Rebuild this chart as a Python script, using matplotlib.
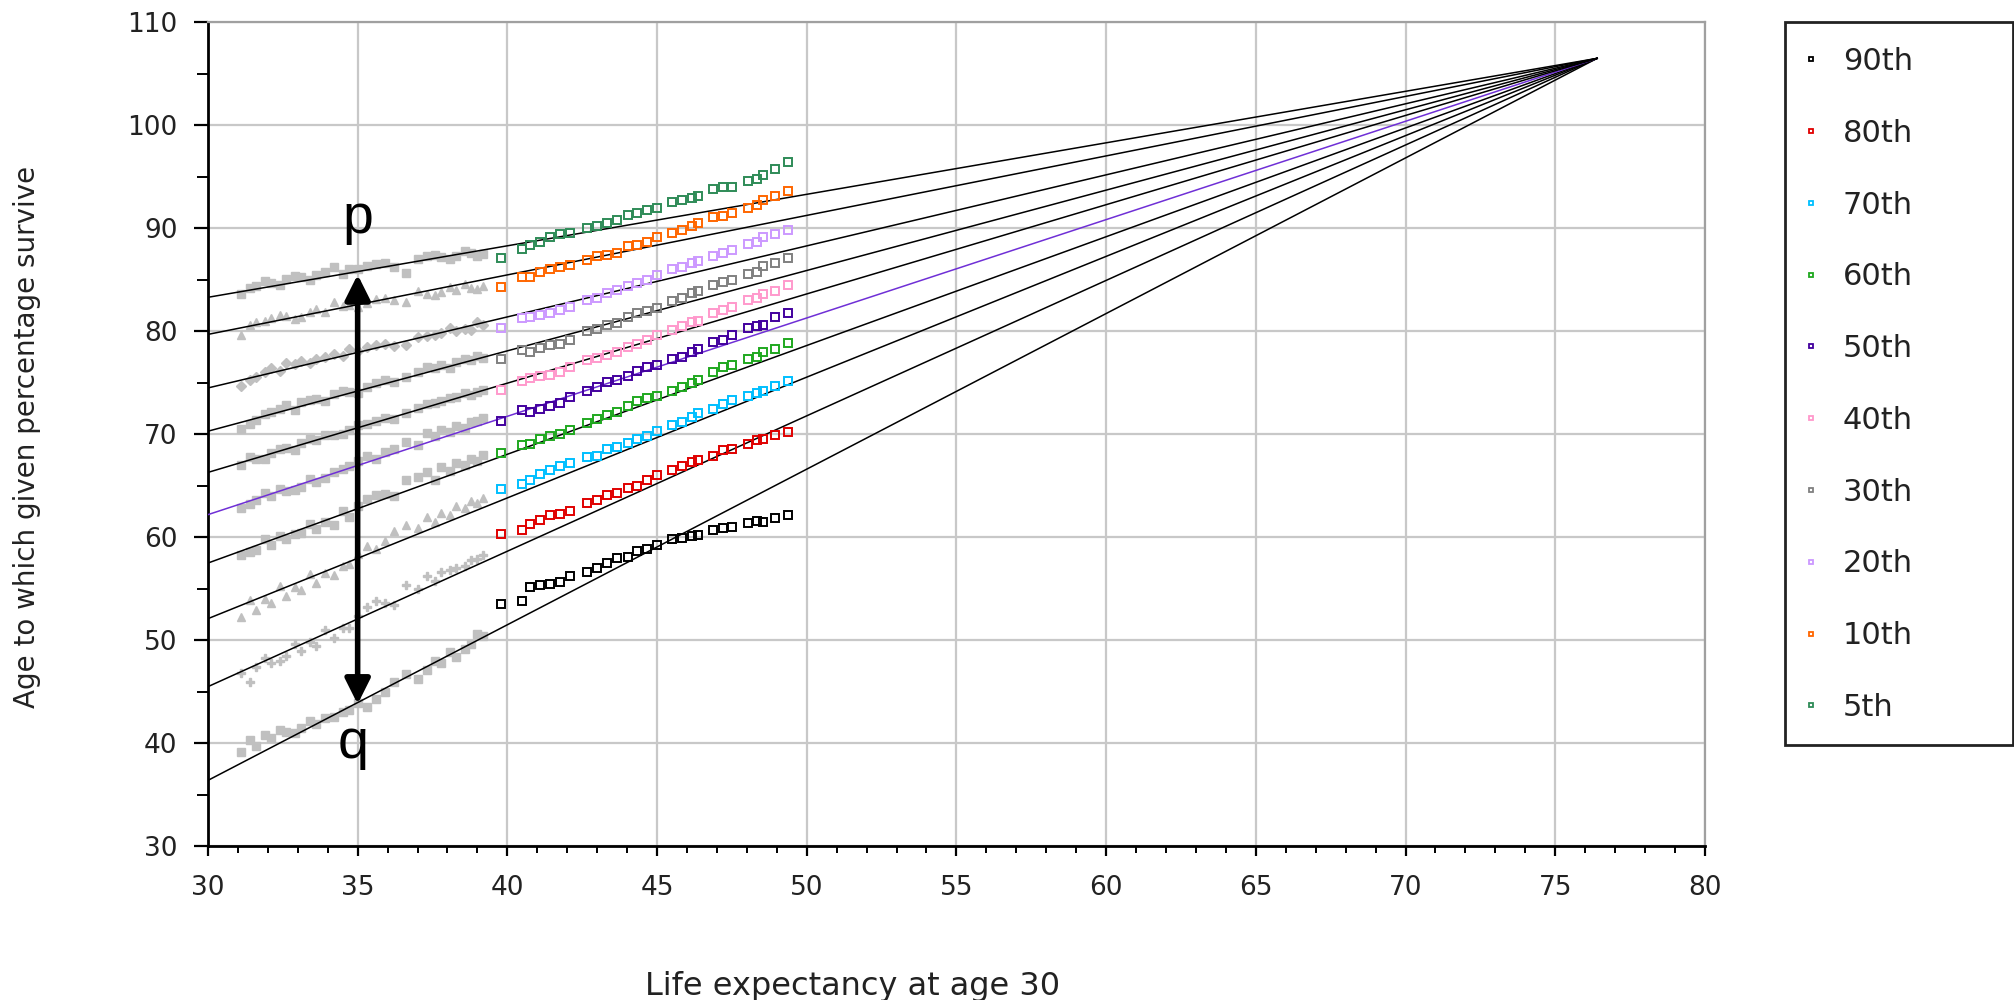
"""
Survival-age fan chart: age to which a given percentage survive vs life
expectancy at age 30, with percentile series and converging fit lines.
Writes out.png.
"""

import matplotlib

matplotlib.use("Agg")  # headless
import matplotlib.pyplot as plt
from matplotlib.lines import Line2D
from matplotlib.patches import Rectangle

# --- data --------------------------------------------------------------------
PERCENTILES = ["90th", "80th", "70th", "60th", "50th", "40th", "30th", "20th", "10th", "5th"]

# fitted lines: start value at x=30, all converge on one point
LINE_X0 = 30.0
LINE_Y0 = [36.4, 45.5, 52.1, 57.5, 62.2, 66.3, 70.3, 74.5, 79.7, 83.3]
CONVERGE_X = 76.4
CONVERGE_Y = 106.5

# coloured series (life expectancy 39.8 - 49.4)
COLOUR_X = [39.78, 40.48, 40.76, 41.09, 41.42, 41.76, 42.09, 42.65, 42.98, 43.32,
            43.65, 44.04, 44.32, 44.65, 44.99, 45.49, 45.82, 46.16, 46.38, 46.88,
            47.21, 47.49, 48.05, 48.33, 48.55, 48.94, 49.39]
Y_90 = [53.5, 53.8, 55.2, 55.4, 55.5, 55.7, 56.2, 56.6, 57.0, 57.5, 58.0, 58.1, 58.7, 58.9,
        59.3, 59.8, 59.9, 60.1, 60.2, 60.7, 60.9, 61.0, 61.4, 61.6, 61.5, 61.9, 62.2]
Y_80 = [60.3, 60.7, 61.3, 61.7, 62.2, 62.3, 62.6, 63.3, 63.6, 64.1, 64.3, 64.8, 65.0, 65.6,
        66.0, 66.5, 66.9, 67.3, 67.5, 67.9, 68.5, 68.6, 69.1, 69.4, 69.5, 69.9, 70.2]
Y_70 = [64.7, 65.2, 65.6, 66.1, 66.5, 66.9, 67.2, 67.8, 67.9, 68.6, 68.8, 69.2, 69.5, 69.8,
        70.3, 70.9, 71.2, 71.7, 72.1, 72.5, 72.9, 73.3, 73.7, 74.0, 74.2, 74.7, 75.2]
Y_60 = [68.2, 69.0, 69.1, 69.5, 69.8, 70.0, 70.4, 71.1, 71.5, 71.9, 72.2, 72.7, 73.2, 73.5,
        73.7, 74.2, 74.6, 75.0, 75.3, 76.0, 76.5, 76.7, 77.3, 77.5, 78.0, 78.3, 78.9]
Y_50 = [71.3, 72.4, 72.2, 72.5, 72.7, 73.0, 73.6, 74.2, 74.6, 75.1, 75.3, 75.7, 76.1, 76.5,
        76.7, 77.3, 77.5, 78.0, 78.3, 79.0, 79.2, 79.6, 80.3, 80.5, 80.6, 81.4, 81.8]
Y_40 = [74.3, 75.2, 75.5, 75.7, 75.8, 76.0, 76.5, 77.2, 77.4, 77.7, 78.0, 78.5, 78.8, 79.2,
        79.6, 80.1, 80.5, 80.9, 81.0, 81.8, 82.1, 82.4, 83.0, 83.2, 83.6, 83.9, 84.5]
Y_30 = [77.3, 78.2, 78.0, 78.4, 78.7, 78.8, 79.2, 80.0, 80.2, 80.6, 80.8, 81.4, 81.8, 82.0,
        82.3, 82.9, 83.2, 83.7, 83.9, 84.5, 84.8, 85.0, 85.6, 85.8, 86.3, 86.6, 87.1]
Y_20 = [80.3, 81.3, 81.4, 81.6, 81.8, 82.1, 82.4, 83.0, 83.2, 83.7, 84.0, 84.4, 84.7, 85.0,
        85.5, 86.0, 86.2, 86.6, 86.8, 87.3, 87.6, 87.9, 88.5, 88.7, 89.2, 89.4, 89.8]
Y_10 = [84.3, 85.3, 85.3, 85.8, 86.0, 86.2, 86.4, 86.9, 87.3, 87.4, 87.6, 88.3, 88.4, 88.7,
        89.2, 89.5, 89.8, 90.2, 90.5, 91.1, 91.2, 91.5, 92.0, 92.3, 92.7, 93.1, 93.6]
Y_5 = [87.1, 88.0, 88.4, 88.7, 89.2, 89.4, 89.5, 90.0, 90.2, 90.5, 90.8, 91.3, 91.5, 91.8,
       92.0, 92.6, 92.7, 92.9, 93.1, 93.8, 94.0, 94.0, 94.6, 94.8, 95.2, 95.8, 96.4]
COLOUR_Y = [Y_90, Y_80, Y_70, Y_60, Y_50, Y_40, Y_30, Y_20, Y_10, Y_5]

# grey (earlier) observations, life expectancy 31 - 39, two interleaved sets
GREY_X = [31.1, 31.6, 32.1, 32.6, 33.1, 33.6, 34.2, 34.7, 35.3, 35.9, 36.6, 37.3, 37.8,
          38.3, 38.8, 39.2]
G_90 = [39.2, 39.7, 40.5, 41.1, 41.5, 41.9, 42.6, 43.2, 43.5, 45.0, 46.7, 47.1, 47.8, 48.4, 49.6, 50.4]
G_80 = [46.8, 47.4, 47.8, 48.5, 49.0, 49.4, 50.2, 51.2, 53.2, 53.6, 55.4, 56.2, 56.6, 57.0, 57.8, 58.3]
G_70 = [52.3, 52.9, 53.6, 54.3, 54.9, 55.6, 56.3, 57.4, 59.2, 59.6, 61.2, 62.0, 62.4, 63.0, 63.5, 63.8]
G_60 = [58.3, 58.8, 59.3, 59.8, 60.4, 60.8, 61.2, 62.0, 63.7, 64.2, 65.6, 66.3, 66.8, 67.2, 67.6, 68.0]
G_50 = [62.8, 63.6, 64.0, 64.5, 64.9, 65.4, 66.3, 66.9, 67.9, 68.3, 69.3, 70.1, 70.4, 70.8, 71.2, 71.6]
G_40 = [67.0, 67.6, 68.2, 68.7, 69.2, 69.4, 69.9, 70.4, 71.0, 71.6, 72.1, 72.9, 73.2, 73.6, 73.8, 74.3]
G_30 = [70.5, 71.4, 72.2, 72.8, 73.1, 73.4, 73.9, 74.1, 74.6, 75.3, 75.6, 76.5, 76.7, 77.0, 77.2, 77.4]
G_20 = [74.7, 75.6, 76.4, 76.9, 77.1, 77.3, 77.8, 78.3, 78.5, 78.8, 78.7, 79.5, 79.8, 80.0, 80.1, 80.6]
G_10 = [79.6, 80.9, 81.3, 81.5, 81.4, 82.2, 82.8, 82.6, 82.7, 83.2, 82.8, 83.6, 83.8, 84.0, 84.2, 84.4]
G_5 = [83.6, 84.4, 84.7, 85.1, 85.3, 85.5, 86.2, 86.0, 86.3, 86.6, 85.7, 87.3, 87.2, 87.3, 87.6, 87.5]
GREY_Y = [G_90, G_80, G_70, G_60, G_50, G_40, G_30, G_20, G_10, G_5]

GREY_X2 = [31.4, 31.9, 32.4, 32.9, 33.4, 33.9, 34.5, 35.0, 35.6, 36.2, 37.0, 37.6, 38.1,
           38.6, 39.0]
H_90 = [40.3, 40.8, 41.3, 41.0, 42.2, 42.5, 43.0, 43.9, 44.3, 46.0, 46.2, 48.0, 48.9, 49.2, 50.6]
H_80 = [46.0, 48.3, 48.0, 49.6, 49.8, 51.0, 51.2, 52.4, 53.8, 53.4, 55.0, 55.8, 56.8, 57.2, 57.9]
H_70 = [53.9, 54.0, 55.3, 55.2, 56.4, 56.5, 57.2, 58.4, 58.9, 60.6, 60.9, 61.5, 62.2, 62.8, 63.3]
H_60 = [58.6, 59.8, 60.1, 60.3, 61.3, 61.5, 62.6, 63.0, 64.1, 64.0, 65.9, 65.6, 66.4, 67.0, 67.4]
H_50 = [63.2, 64.3, 64.7, 64.6, 65.7, 65.8, 66.6, 67.4, 67.6, 68.6, 69.0, 69.8, 70.2, 70.6, 71.3]
H_40 = [67.8, 67.6, 68.6, 68.5, 69.5, 69.9, 70.0, 70.9, 71.3, 71.5, 72.6, 73.0, 73.5, 74.0, 74.1]
H_30 = [71.0, 72.0, 72.5, 72.4, 73.3, 73.2, 74.2, 74.0, 75.0, 75.1, 76.0, 76.4, 76.4, 77.3, 77.6]
H_20 = [75.3, 76.0, 76.1, 76.8, 76.9, 77.5, 77.6, 78.1, 78.7, 78.6, 79.4, 79.6, 80.3, 80.2, 80.9]
H_10 = [80.6, 81.0, 81.6, 81.2, 81.9, 81.9, 82.5, 82.4, 83.1, 83.0, 83.9, 83.5, 84.3, 84.6, 84.1]
H_5 = [84.2, 84.9, 84.5, 85.4, 85.0, 85.8, 85.6, 86.0, 86.5, 86.2, 87.0, 87.4, 87.0, 87.8, 87.3]
GREY_Y2 = [H_90, H_80, H_70, H_60, H_50, H_40, H_30, H_20, H_10, H_5]

# p-q arrow and its labels
ARROW_X = 35.0
ARROW_TOP = 85.5
ARROW_BOTTOM = 43.8
P_POS = (35.0, 89.5)
Q_POS = (34.85, 38.6)

# --- styles -------------------------------------------------------------------
COLOURS = ["#000000", "#e00000", "#00bfff", "#1fa81f", "#42009e",
           "#ff99cc", "#808080", "#cc99ff", "#ff6600", "#2e8b57"]
LINE_COLOURS = ["black"] * 4 + ["#6f2fd6"] + ["black"] * 5
GREY_MARKERS = ["s", "P", "^", "s", "s", "s", "s", "D", "^", "s"]
GREY = "#c0c0c0"
FONT = "DejaVu Sans"
TEXT_COLOUR = "#222222"

fig = plt.figure(figsize=(20.15, 10.0), dpi=100)
ax = fig.add_axes([0.1032, 0.1537, 0.7429, 0.8240])

for gx, gys in ((GREY_X, GREY_Y), (GREY_X2, GREY_Y2)):
    for gy, mk in zip(gys, GREY_MARKERS):
        ax.plot(gx, gy, ls="none", marker=mk, ms=5.5, color=GREY, mec=GREY, zorder=2)

for y0, lc in zip(LINE_Y0, LINE_COLOURS):
    ax.plot([LINE_X0, CONVERGE_X], [y0, CONVERGE_Y], color=lc, lw=1.1, zorder=3)

for cy, c in zip(COLOUR_Y, COLOURS):
    ax.plot(COLOUR_X, cy, ls="none", marker="s", ms=5.8, mfc="none", mec=c, mew=1.4, zorder=4)

ax.annotate("", xy=(ARROW_X, ARROW_TOP), xytext=(ARROW_X, ARROW_BOTTOM),
            arrowprops=dict(arrowstyle="<|-|>", lw=4, color="black", mutation_scale=38,
                            shrinkA=0, shrinkB=0), zorder=6)
ax.text(*P_POS, "p", ha="center", va="baseline", fontsize=40, family="Liberation Sans", zorder=6)
ax.text(*Q_POS, "q", ha="center", va="baseline", fontsize=40, family="Liberation Sans", zorder=6)

ax.set_xlim(30, 80)
ax.set_ylim(30, 110)
ax.set_xticks(range(30, 81, 5))
ax.set_xticks(range(30, 81, 1), minor=True)
ax.set_yticks(range(30, 111, 10))
ax.set_yticks(range(35, 110, 10), minor=True)
ax.grid(True, which="major", color="#c8c8c8", lw=1.6, zorder=0)
ax.set_axisbelow(True)

ax.tick_params(axis="x", which="major", length=7, width=1.6, pad=14, labelsize=19)
ax.tick_params(axis="x", which="minor", length=5, width=1.4)
ax.tick_params(axis="y", which="major", length=10, width=1.6, pad=12, labelsize=19)
ax.tick_params(axis="y", which="minor", length=8, width=1.4)
for lab in ax.get_xticklabels() + ax.get_yticklabels():
    lab.set_family(FONT)
    lab.set_color(TEXT_COLOUR)

for side in ("left", "bottom"):
    ax.spines[side].set_linewidth(2)
    ax.spines[side].set_color("black")
for side in ("top", "right"):
    ax.spines[side].set_linewidth(1.6)
    ax.spines[side].set_color("#a0a0a0")

fig.text(0.0132, 0.563, "Age to which given percentage survive", rotation=90,
         ha="center", va="center", fontsize=20, family=FONT, color=TEXT_COLOUR)
fig.text(0.423, 0.014, "Life expectancy at age 30", ha="center", va="center",
         fontsize=23, family=FONT, color=TEXT_COLOUR)

# legend: frame drawn as its own box, entries placed inside
fig.patches.append(Rectangle((1785 / 2015, 1 - 745 / 1000), 228 / 2015, 723 / 1000,
                             transform=fig.transFigure, fill=False, ec=TEXT_COLOUR, lw=2))
handles = [Line2D([], [], ls="none", marker="s", ms=3.5, mfc="none", mec=c, mew=1.3)
           for c in COLOURS]
leg = fig.legend(handles, PERCENTILES, loc="upper left",
                 bbox_to_anchor=(1803 / 2015, 1 - 47 / 1000), frameon=False,
                 borderpad=0, borderaxespad=0, handlelength=0.55, handletextpad=0.75,
                 labelspacing=1.40, prop={"family": FONT, "size": 22})
for t in leg.get_texts():
    t.set_color(TEXT_COLOUR)

fig.savefig("out.png", dpi=100)
